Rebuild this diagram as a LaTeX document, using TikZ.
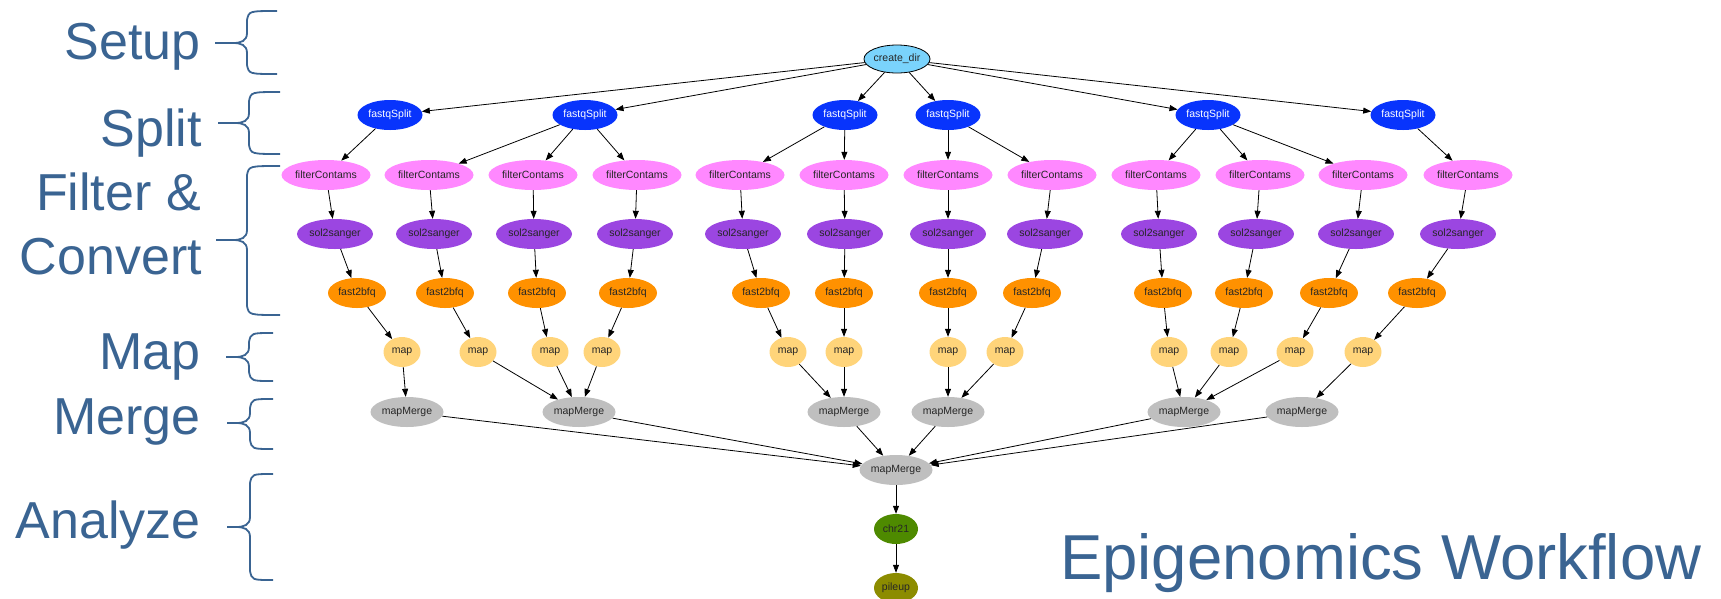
\documentclass[tikz,border=0pt]{standalone}
\usepackage{fontspec}
\setmainfont{Liberation Sans}
\usetikzlibrary{shapes.geometric,arrows.meta}

\definecolor{stageblue}{RGB}{58,100,146}
\definecolor{cdirfill}{RGB}{122,211,252}
\definecolor{splitfill}{RGB}{8,52,252}
\definecolor{filterfill}{RGB}{255,136,255}
\definecolor{solfill}{RGB}{155,70,225}
\definecolor{bfqfill}{RGB}{255,145,0}
\definecolor{mapfill}{RGB}{255,212,122}
\definecolor{mergefill}{RGB}{191,191,191}
\definecolor{chrfill}{RGB}{78,138,0}
\definecolor{pilefill}{RGB}{140,140,0}

% left curly brace: end x, spine x, tip x, top y, tip y, bottom y
\newcommand{\stagebrace}[6]{%
  \draw[bracestroke] (#1,#4) .. controls (#2+2,#4) .. (#2,#4+9) -- (#2,#5-10)
    .. controls (#2,#5-2) and (#2-6,#5) .. (#2-14,#5) -- (#3,#5)
    -- (#2-14,#5) .. controls (#2-6,#5) and (#2,#5+2) .. (#2,#5+10)
    -- (#2,#6-9) .. controls (#2+2,#6) .. (#1,#6);}

\begin{document}
\begin{tikzpicture}[x=1pt,y=-1pt,
  job/.style={ellipse, inner sep=0pt, minimum height=30pt,
    font=\fontsize{10.5}{12}\selectfont, text=black!85},
  cdir/.style={job, draw=black, line width=0.8pt, fill=cdirfill, minimum width=65pt, minimum height=28pt},
  split/.style={job, fill=splitfill, text=white, minimum width=65pt},
  filt/.style={job, fill=filterfill, minimum width=89pt},
  sol/.style={job, fill=solfill, minimum width=76pt},
  bfq/.style={job, fill=bfqfill, minimum width=58pt},
  mapjob/.style={job, fill=mapfill, minimum width=37pt},
  merge/.style={job, fill=mergefill, minimum width=73pt},
  chrjob/.style={job, fill=chrfill, minimum width=44pt},
  pilejob/.style={job, fill=pilefill, minimum width=44pt},
  edge/.style={draw=black, line width=0.8pt, -{Triangle[length=8pt,width=6pt]}},
  stage/.style={anchor=base east, inner sep=0pt, text=stageblue,
    font=\fontsize{52}{56}\selectfont},
  bracestroke/.style={draw=stageblue, line width=1.8pt}]
\useasboundingbox (0,0) rectangle (1721,598);
\clip (0,0) rectangle (1721,598);

% stage labels and braces
\node[stage] (lsetup) at (201,59) {Setup};
\node[stage] (lsplit) at (202,146) {Split};
\node[stage] (lfilter) at (201,210) {Filter \&};
\node[stage] (lconvert) at (202,274) {Convert};
\node[stage] (lmap) at (201,369) {Map};
\node[stage] (lmerge) at (201,434) {Merge};
\node[stage] (lanalyze) at (201,538) {Analyze};

\stagebrace{277}{247}{215}{11}{43}{74}
\stagebrace{280}{249}{218}{92}{123}{154}
\stagebrace{280}{247}{216}{166}{240}{315}
\stagebrace{273}{249}{226}{333}{357}{381}
\stagebrace{273}{250}{227}{399}{423}{449}
\stagebrace{273}{250}{227}{474}{527}{580}

\node[anchor=base west, inner sep=0pt, text=stageblue,
  font=\fontsize{63.5}{70}\selectfont] (title) at (1060,579) {Epigenomics Workflow};

% workflow jobs
\node[cdir] (cd) at (897,59) {create\_dir};
\foreach \i/\x in {1/390,2/585,3/845,4/948,5/1208,6/1403}
  \node[split] (fs\i) at (\x,115) {fastqSplit};
\foreach \i/\x in {1/326,2/429,3/533,4/637,5/740,6/844,7/948,8/1052,9/1156,10/1260,11/1363,12/1468}
  \node[filt] (fc\i) at (\x,175) {filterContams};
\foreach \i/\x in {1/335,2/434,3/534,4/635,5/743,6/845,7/948,8/1045,9/1159,10/1256,11/1356,12/1458}
  \node[sol] (ss\i) at (\x,234) {sol2sanger};
\foreach \i/\x in {1/357,2/445,3/537,4/628,5/761,6/844,7/948,8/1032,9/1163,10/1244,11/1329,12/1417}
  \node[bfq] (fb\i) at (\x,293) {fast2bfq};
\foreach \i/\x in {1/402,2/478,3/550,4/602,5/788,6/844,7/948,8/1005,9/1169,10/1229,11/1295,12/1363}
  \node[mapjob] (mp\i) at (\x,352) {map};
\foreach \i/\x in {1/407,2/579,3/844,4/948,5/1184,6/1302}
  \node[merge] (mm\i) at (\x,412) {mapMerge};
\node[merge] (mmall) at (896,470) {mapMerge};
\node[chrjob] (chr) at (896,529) {chr21};
\node[pilejob] (pile) at (896,588) {pileup};

% dependencies
\foreach \i in {1,...,6} \draw[edge] (cd) -- (fs\i);
\foreach \a/\b in {fs1/fc1, fs2/fc2, fs2/fc3, fs2/fc4, fs3/fc5, fs3/fc6,
                   fs4/fc7, fs4/fc8, fs5/fc9, fs5/fc10, fs5/fc11, fs6/fc12}
  \draw[edge] (\a) -- (\b);
\foreach \i in {1,...,12} {
  \draw[edge] (fc\i) -- (ss\i);
  \draw[edge] (ss\i) -- (fb\i);
  \draw[edge] (fb\i) -- (mp\i);
}
\foreach \a/\b in {mp1/mm1, mp2/mm2, mp3/mm2, mp4/mm2, mp5/mm3, mp6/mm3,
                   mp7/mm4, mp8/mm4, mp9/mm5, mp10/mm5, mp11/mm5, mp12/mm6}
  \draw[edge] (\a) -- (\b);
\foreach \i in {1,...,6} \draw[edge] (mm\i) -- (mmall);
\draw[edge] (mmall) -- (chr);
\draw[edge] (chr) -- (pile);
\end{tikzpicture}
\end{document}
